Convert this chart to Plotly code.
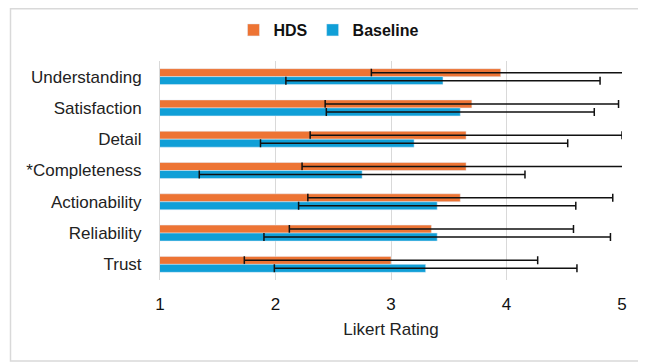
import plotly.graph_objects as go

categories = ["Understanding", "Satisfaction", "Detail", "*Completeness",
              "Actionability", "Reliability", "Trust"]
hds_mean = [3.95, 3.70, 3.65, 3.65, 3.60, 3.35, 3.00]
hds_err = [1.12, 1.27, 1.35, 1.42, 1.32, 1.23, 1.27]
base_mean = [3.45, 3.60, 3.20, 2.75, 3.40, 3.40, 3.30]
base_err = [1.36, 1.16, 1.33, 1.41, 1.20, 1.50, 1.31]
x_ticks = [1, 2, 3, 4, 5]

FONT = "Liberation Sans"
OFF = 8  # page body margin

fig = go.Figure()
fig.add_trace(go.Bar(
    name="HDS", y=categories, x=hds_mean, orientation="h",
    marker=dict(color="#ED7434"),
    error_x=dict(type="data", array=hds_err, color="#111111", thickness=1.5, width=4),
))
fig.add_trace(go.Bar(
    name="Baseline", y=categories, x=base_mean, orientation="h",
    marker=dict(color="#109FD7"),
    error_x=dict(type="data", array=base_err, color="#111111", thickness=1.5, width=4),
))

W, H = 646 - OFF, 362 - OFF
L, T = 160 - OFF, 61 - OFF
R = W - (622 - OFF)
B = H - (280 - OFF)
pw, ph = W - L - R, H - T - B

def px(x):
    return (x - OFF - L) / pw

def py(y):
    return (H - B - (y - OFF)) / ph

fig.add_shape(type="rect", xref="paper", yref="paper",
              x0=px(10.5), x1=px(642), y0=py(361), y1=py(8.7),
              line=dict(color="#D9D9D9", width=1.5), layer="below")

fig.update_layout(
    width=W, height=H,
    margin=dict(l=L, r=R, t=T, b=B, autoexpand=False),
    barmode="group", bargap=0.49, bargroupgap=0,
    plot_bgcolor="white", paper_bgcolor="white",
    font=dict(family=FONT, size=17, color="#222222"),
    legend=dict(orientation="h", x=px(329), xanchor="center", y=py(30), yanchor="middle",
                font=dict(family=FONT, size=16, color="#111111", weight="bold"),
                itemwidth=30, traceorder="normal"),
    xaxis=dict(range=[1, 5], tickvals=x_ticks, showgrid=True, gridcolor="#D9D9D9",
               gridwidth=1, zeroline=False, showline=False, ticks="",
               ticklabelstandoff=12,
               tickfont=dict(size=17, color="#111111"),
               title=dict(text="Likert Rating", font=dict(size=17, color="#222222"), standoff=10)),
    yaxis=dict(autorange="reversed", showgrid=False, showline=True, linecolor="#D9D9D9",
               ticks="", ticklabelstandoff=14, tickfont=dict(size=17, color="#222222")),
)

fig.write_html("out.html")
